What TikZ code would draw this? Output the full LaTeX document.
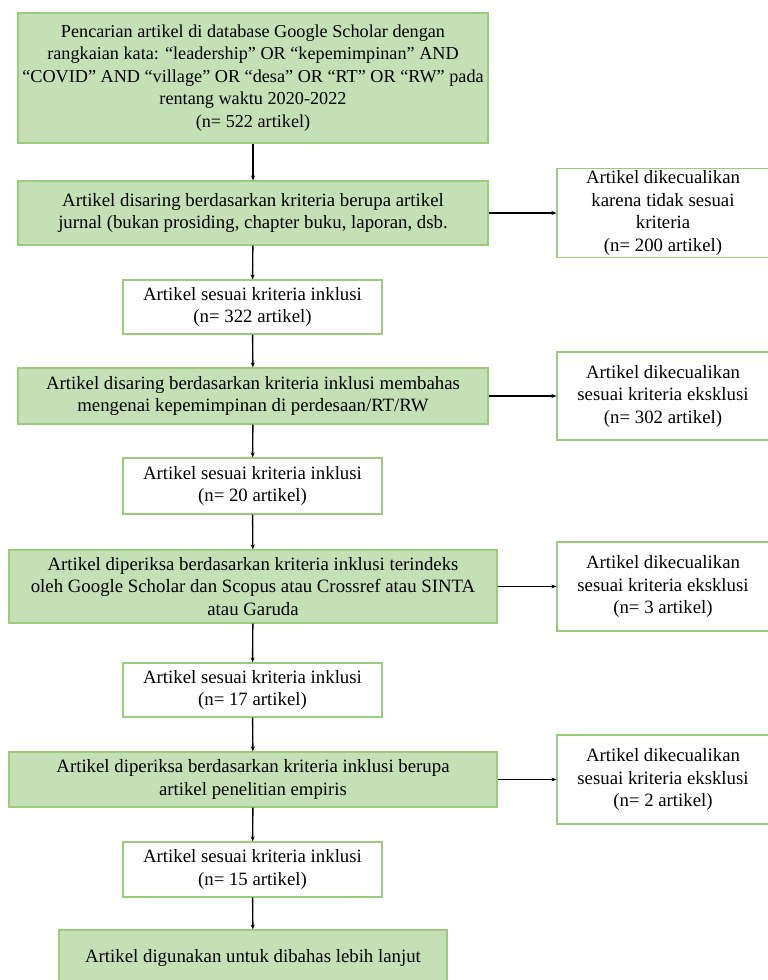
\documentclass[tikz,border=0pt]{standalone}
\usepackage{fontspec}
\setmainfont{Liberation Serif}
\usetikzlibrary{arrows.meta, positioning}
\definecolor{boxgreen}{RGB}{197, 224, 180}
\definecolor{linegreen}{RGB}{156, 203, 126}

\begin{document}
\begin{tikzpicture}[x=1pt, y=-1pt,
    greenbox/.style={draw=linegreen, line width=1.2pt, fill=boxgreen, align=center, inner sep=2pt,
      font=\fontsize{18.8}{22.5}\selectfont},
    whitebox/.style={draw=linegreen, line width=1.2pt, fill=white, align=center, inner sep=2pt,
      font=\fontsize{18.8}{22.5}\selectfont},
    arr/.style={-{Stealth[length=5pt, width=4pt]}, line width=1.4pt}]
  \useasboundingbox (0, 0) rectangle (768, 980);

  % Main flow
  \node[greenbox, minimum width=470pt, minimum height=130pt, inner xsep=0pt,
    font=\fontsize{18.2}{22.5}\selectfont] (search) at (253, 78) {
    Pencarian artikel di database Google Scholar dengan\\
    rangkaian kata: “leadership” OR “kepemimpinan” AND\\
    “COVID” AND “village” OR “desa” OR “RT” OR “RW” pada\\
    rentang waktu 2020-2022\\
    (n= 522 artikel)};
  \node[greenbox, minimum width=470pt, minimum height=64pt] (filter1) at (253, 213) {
    Artikel disaring berdasarkan kriteria berupa artikel\\
    jurnal (bukan prosiding, chapter buku, laporan, dsb.};
  \node[whitebox, minimum width=259pt, minimum height=54pt] (incl1) at (252.5, 307) {
    Artikel sesuai kriteria inklusi\\
    (n= 322 artikel)};
  \node[greenbox, minimum width=470pt, minimum height=56pt] (filter2) at (253, 396) {
    Artikel disaring berdasarkan kriteria inklusi membahas\\
    mengenai kepemimpinan di perdesaan/RT/RW};
  \node[whitebox, minimum width=259pt, minimum height=56pt] (incl2) at (252.5, 486) {
    Artikel sesuai kriteria inklusi\\
    (n= 20 artikel)};
  \node[greenbox, minimum width=488pt, minimum height=73pt] (check1) at (253, 586.5) {
    Artikel diperiksa berdasarkan kriteria inklusi terindeks\\
    oleh Google Scholar dan Scopus atau Crossref atau SINTA\\
    atau Garuda};
  \node[whitebox, minimum width=259pt, minimum height=54pt] (incl3) at (252.5, 690) {
    Artikel sesuai kriteria inklusi\\
    (n= 17 artikel)};
  \node[greenbox, minimum width=488pt, minimum height=55pt] (check2) at (253, 779.5) {
    Artikel diperiksa berdasarkan kriteria inklusi berupa\\
    artikel penelitian empiris};
  \node[whitebox, minimum width=259pt, minimum height=55pt] (incl4) at (252.5, 869.5) {
    Artikel sesuai kriteria inklusi\\
    (n= 15 artikel)};
  \node[greenbox, minimum width=388pt, minimum height=56pt] (final) at (253, 958) {
    Artikel digunakan untuk dibahas lebih lanjut};

  % Excluded articles
  \node[whitebox, minimum width=212pt, minimum height=88pt] (excl1) at (663, 213) {
    Artikel dikecualikan\\
    karena tidak sesuai\\
    kriteria\\
    (n= 200 artikel)};
  \node[whitebox, minimum width=212pt, minimum height=88pt] (excl2) at (663, 396) {
    Artikel dikecualikan\\
    sesuai kriteria eksklusi\\
    (n= 302 artikel)};
  \node[whitebox, minimum width=212pt, minimum height=89pt] (excl3) at (663, 586.5) {
    Artikel dikecualikan\\
    sesuai kriteria eksklusi\\
    (n= 3 artikel)};
  \node[whitebox, minimum width=212pt, minimum height=89pt] (excl4) at (663, 779.5) {
    Artikel dikecualikan\\
    sesuai kriteria eksklusi\\
    (n= 2 artikel)};

  \draw[arr] (search) -- (filter1);
  \draw[arr] (filter1) -- (incl1);
  \draw[arr] (incl1) -- (filter2);
  \draw[arr] (filter2) -- (incl2);
  \draw[arr] (incl2) -- (check1);
  \draw[arr] (check1) -- (incl3);
  \draw[arr] (incl3) -- (check2);
  \draw[arr] (check2) -- (incl4);
  \draw[arr] (incl4) -- (final);

  \draw[arr] (filter1) -- (excl1);
  \draw[arr] (filter2) -- (excl2);
  \draw[arr] (check1) -- (excl3);
  \draw[arr] (check2) -- (excl4);
\end{tikzpicture}
\end{document}
